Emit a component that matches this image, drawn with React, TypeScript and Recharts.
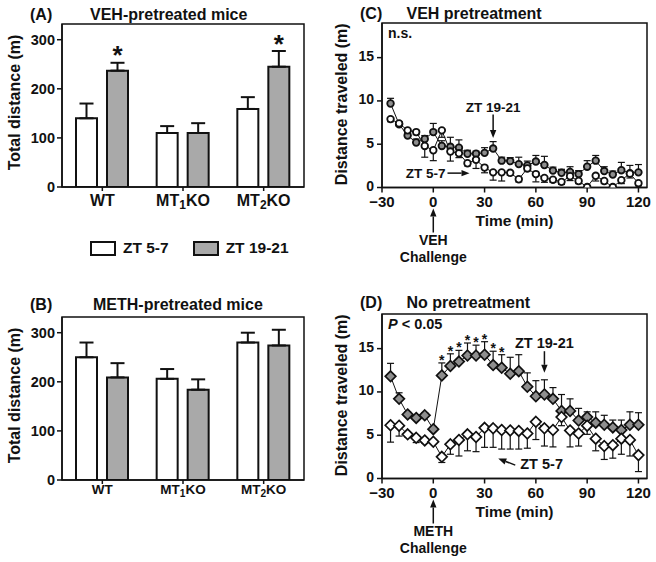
import React from 'react'
import {
  Bar,
  BarChart,
  ErrorBar,
  LabelList,
  Legend,
  Line,
  LineChart,
  ReferenceArea,
  ReferenceDot,
  XAxis,
  YAxis,
} from 'recharts'

// bar panels (A, B)
const GROUPS = ['WT', 'MT1KO', 'MT2KO']
const SERIES_NAMES = ['ZT 5-7', 'ZT 19-21']
const VEH_DAY = [140, 110, 159]
const VEH_DAY_ERR = [30, 14, 24]
const VEH_NIGHT = [237, 110, 245]
const VEH_NIGHT_ERR = [16, 20, 32]
const VEH_NIGHT_SIG = ['*', '', '*']
const METH_DAY = [250, 206, 280]
const METH_DAY_ERR = [30, 20, 20]
const METH_NIGHT = [209, 184, 274]
const METH_NIGHT_ERR = [29, 21, 32]
const BAR_TICKS = [0, 100, 200, 300]

// time course panels (C, D)
const TIMES = [-25, -20, -15, -10, -5, 0, 5, 10, 15, 20, 25, 30, 35, 40, 45, 50, 55, 60, 65, 70, 75, 80, 85, 90, 95, 100, 105, 110, 115, 120]
const C_NIGHT = [9.7, 7.3, 6.0, 5.2, 5.6, 6.4, 4.8, 4.7, 4.6, 3.9, 3.9, 4.0, 4.5, 3.1, 3.05, 2.7, 2.55, 3.0, 2.6, 1.95, 1.7, 1.8, 1.55, 2.4, 3.1, 1.9, 1.5, 2.0, 1.65, 1.75]
const C_NIGHT_ERR = [0.6, 0.3, 0.4, 0.4, 0.4, 1.0, 0.6, 1.1, 0.9, 0.4, 0.3, 0.6, 0.8, 0.4, 0.4, 0.8, 0.5, 0.7, 1.0, 0.4, 0.4, 0.6, 0.4, 0.7, 0.6, 0.5, 0.4, 0.9, 0.9, 0.9]
const C_DAY = [7.9, 7.4, 6.6, 6.4, 4.8, 4.3, 6.6, 4.15, 3.95, 2.8, 3.2, 2.3, 1.75, 1.75, 1.7, 0.95, 2.2, 1.55, 1.1, 0.9, 0.65, 1.3, 0.75, 0.05, 1.35, 0.75, 0.05, 0.85, 1.6, 0.5]
const C_DAY_ERR = [0.3, 0.3, 0.3, 0.3, 1.3, 1.2, 0.8, 1.1, 0.5, 0.3, 1.0, 0.6, 0.9, 1.0, 0.3, 0.3, 0.3, 0.9, 0.5, 0.3, 0.3, 0.5, 0.3, 0.05, 0.6, 0.3, 0.05, 0.4, 0.5, 0.3]
const D_NIGHT = [11.8, 9.2, 7.4, 7.0, 7.3, 5.7, 11.9, 13.0, 13.5, 14.2, 14.2, 14.3, 13.1, 12.8, 12.1, 12.4, 10.6, 9.5, 9.7, 9.2, 7.8, 7.8, 6.7, 7.1, 6.45, 6.2, 5.9, 5.6, 6.2, 6.2]
const D_NIGHT_ERR = [1.5, 0.7, 0.3, 0.3, 0.3, 0.3, 1.45, 1.4, 1.3, 1.45, 1.2, 1.5, 1.6, 1.5, 1.9, 1.9, 1.6, 1.8, 1.7, 1.3, 1.9, 1.4, 1.4, 0.6, 1.25, 1.1, 0.85, 1.15, 1.5, 1.4]
const D_DAY = [6.15, 6.1, 5.1, 4.7, 4.4, 4.25, 2.5, 3.95, 4.45, 5.1, 4.8, 5.85, 5.8, 5.6, 5.55, 5.5, 5.2, 6.55, 5.8, 5.6, 7.1, 5.55, 5.2, 6.1, 4.6, 3.75, 3.85, 4.6, 4.45, 2.7]
const D_DAY_ERR = [1.95, 1.2, 0.3, 0.55, 0.3, 0.2, 0.65, 1.15, 1.85, 1.9, 1.7, 2.25, 2.2, 2.2, 2.15, 2.1, 1.7, 2.05, 2.05, 1.95, 1.0, 1.9, 1.45, 1.0, 1.4, 1.55, 1.5, 1.8, 1.85, 1.9]
const D_SIG_TIMES = [5, 10, 15, 20, 25, 30, 35, 40]
const TIME_TICKS = [-30, 0, 30, 60, 90, 120]
const DIST_TICKS = [0, 5, 10, 15]

const INK = '#111'
const BAR_GRAY = '#a9a9a9'
const DOT_GRAY = '#8e8e8e'
const AXIS = { stroke: INK, strokeWidth: 1.5 }
const FONT = "'Liberation Sans', Arial, Helvetica, sans-serif"

const barRows = (day, dayErr, night, nightErr, sig) =>
  GROUPS.map((g, i) => ({
    group: g,
    day: day[i],
    dayErr: [0, dayErr[i]],
    night: night[i],
    nightErr: [0, nightErr[i]],
    sig: sig ? sig[i] : '',
  }))

const timeRows = (night, nightErr, day, dayErr, sigTimes) =>
  TIMES.map((t, i) => ({
    t,
    night: night[i],
    nightErr: [0, nightErr[i]],
    day: day[i],
    dayErr: [dayErr[i], 0],
    star: sigTimes.includes(t) ? night[i] + nightErr[i] : null,
  }))

const VEH_ROWS = barRows(VEH_DAY, VEH_DAY_ERR, VEH_NIGHT, VEH_NIGHT_ERR, VEH_NIGHT_SIG)
const METH_ROWS = barRows(METH_DAY, METH_DAY_ERR, METH_NIGHT, METH_NIGHT_ERR, null)
const C_ROWS = timeRows(C_NIGHT, C_NIGHT_ERR, C_DAY, C_DAY_ERR, [])
const D_ROWS = timeRows(D_NIGHT, D_NIGHT_ERR, D_DAY, D_DAY_ERR, D_SIG_TIMES)

const minus = (v) => (v < 0 ? `\u2212${-v}` : `${v}`)

function GroupTick(props) {
  const { x, y, payload, size } = props
  const m = /^(\D+)(\d)(\D+)$/.exec(String(payload.value))
  return (
    <text x={x} y={y} dy={size * 0.72} textAnchor="middle" fontSize={size} fontWeight={700} fill={INK}>
      {m ? (
        <>
          <tspan>{m[1]}</tspan>
          <tspan dy={3} fontSize={size * 0.75}>{m[2]}</tspan>
          <tspan dy={-3}>{m[3]}</tspan>
        </>
      ) : (
        payload.value
      )}
    </text>
  )
}

function YTitle(props) {
  const vb = props.viewBox || {}
  const x = (vb.x || 0) + props.inset
  const y = (vb.y || 0) + (vb.height || 0) / 2 + (props.shift || 0)
  return (
    <text x={x} y={y} transform={`rotate(-90 ${x} ${y})`} textAnchor="middle" fontSize={16} fontWeight={700} fill={INK}>
      {props.text}
    </text>
  )
}

function LegendBoxes({ payload }) {
  const items = [...(payload || [])].sort(
    (a, b) => SERIES_NAMES.indexOf(a.value) - SERIES_NAMES.indexOf(b.value),
  )
  return (
    <div style={{ display: 'flex', alignItems: 'center', fontSize: 15.5, fontWeight: 700, color: INK, lineHeight: '18px', fontFamily: FONT }}>
      {items.map((item) => (
        <div key={item.value} style={{ display: 'flex', alignItems: 'center', marginRight: 24 }}>
          <svg width={26} height={15}>
            <rect x={1} y={1} width={24} height={13} fill={item.color} stroke={INK} strokeWidth={2} />
          </svg>
          <span style={{ marginLeft: 7 }}>{item.value}</span>
        </div>
      ))}
    </div>
  )
}

// asterisk above the error bar of a bar: px per unit taken from the bar itself
const barStar = (vals, errs) => (p) => {
  if (!p.value) return null
  const vb = p.viewBox || p
  const i = p.index
  const top = vb.y - errs[i] * (vb.height / vals[i])
  return (
    <text x={vb.x + vb.width / 2} y={top + 1.5} textAnchor="middle" fontSize={26} fontWeight={700} fill={INK}>
      *
    </text>
  )
}

const lineStar = (p) => {
  if (p.value == null) return null
  const vb = p.viewBox || p
  return (
    <text x={vb.x} y={vb.y + 2} textAnchor="middle" fontSize={14} fontWeight={700} fill={INK}>
      *
    </text>
  )
}

const circleDot = (fill) => ({ r: 3.3, fill, stroke: INK, strokeWidth: 1.8 })

const diamondDot = (fill) => (p) => {
  if (p.cx == null || p.cy == null) return <g key={`d${p.index}`} />
  const s = 5.3
  return (
    <path
      key={`d${p.index}`}
      d={`M${p.cx},${p.cy - s}L${p.cx + s},${p.cy}L${p.cx},${p.cy + s}L${p.cx - s},${p.cy}Z`}
      fill={fill}
      stroke={INK}
      strokeWidth={1.7}
    />
  )
}

function Arrow({ x1, y1, x2, y2 }) {
  const a = Math.atan2(y2 - y1, x2 - x1)
  const L = 8
  const W = 3.2
  const bx = x2 - L * Math.cos(a)
  const by = y2 - L * Math.sin(a)
  const px = -Math.sin(a) * W
  const py = Math.cos(a) * W
  return (
    <g>
      <line x1={x1} y1={y1} x2={bx} y2={by} stroke={INK} strokeWidth={1.5} />
      <polygon points={`${x2},${y2} ${bx + px},${by + py} ${bx - px},${by - py}`} fill={INK} />
    </g>
  )
}

const txt = (size) => ({ fontSize: size, fontWeight: 700, fill: INK })

function BarPanel({ rows, tickSize, showLegend, starVals, starErrs }) {
  return (
    <BarChart width={320} height={215} data={rows} margin={{ top: 24, right: 16, left: 0, bottom: 0 }} barSize={21} barGap={10}>
      <ReferenceArea y1={0} y2={332} fill="none" stroke={INK} strokeWidth={1.5} ifOverflow="visible" />
      <XAxis
        dataKey="group"
        height={28}
        interval={0}
        tickSize={4}
        tickMargin={tickSize > 14 ? 3 : 0}
        axisLine={AXIS}
        tickLine={AXIS}
        tick={<GroupTick size={tickSize} />}
      />
      <YAxis
        type="number"
        domain={[0, 332]}
        ticks={BAR_TICKS}
        allowDataOverflow
        width={62}
        tickSize={5}
        tickMargin={2}
        axisLine={AXIS}
        tickLine={AXIS}
        tick={{ fontSize: 14.5, fontWeight: 700, fill: INK }}
        label={<YTitle text="Total distance (m)" inset={19.5} shift={-3} />}
      />
      <Bar dataKey="day" name={SERIES_NAMES[0]} fill="#fff" stroke={INK} strokeWidth={2} isAnimationActive={false}>
        <ErrorBar dataKey="dayErr" direction="y" width={7} stroke={INK} strokeWidth={2} isAnimationActive={false} />
      </Bar>
      <Bar dataKey="night" name={SERIES_NAMES[1]} fill={BAR_GRAY} stroke={INK} strokeWidth={2} isAnimationActive={false}>
        <ErrorBar dataKey="nightErr" direction="y" width={7} stroke={INK} strokeWidth={2} isAnimationActive={false} />
        {starVals && <LabelList dataKey="sig" content={barStar(starVals, starErrs)} />}
      </Bar>
      {showLegend && (
        <Legend
          layout="horizontal"
          verticalAlign="middle"
          align="center"
          wrapperStyle={{ left: 90, top: 239, width: 240 }}
          content={<LegendBoxes />}
        />
      )}
    </BarChart>
  )
}

function TimePanel({ rows, dot, children }) {
  return (
    <LineChart width={336} height={270} data={rows} margin={{ top: 23, right: 9, left: 0, bottom: 0 }}>
      <ReferenceArea x1={-30} x2={125} y1={0} y2={19} fill="none" stroke={INK} strokeWidth={1.5} ifOverflow="visible" />
      <XAxis
        dataKey="t"
        type="number"
        domain={[-30, 125]}
        ticks={TIME_TICKS}
        allowDataOverflow
        height={82.5}
        tickSize={5}
        tickMargin={4}
        axisLine={AXIS}
        tickLine={AXIS}
        tickFormatter={minus}
        tick={{ fontSize: 15, fontWeight: 700, fill: INK }}
        label={{ value: 'Time (min)', position: 'insideTop', offset: 27, fontSize: 15.5, fontWeight: 700, fill: INK }}
      />
      <YAxis
        type="number"
        domain={[0, 19]}
        ticks={DIST_TICKS}
        allowDataOverflow
        width={62}
        tickSize={5}
        tickMargin={3}
        axisLine={AXIS}
        tickLine={AXIS}
        tick={{ fontSize: 14, fontWeight: 700, fill: INK, dy: -1.5 }}
        label={<YTitle text="Distance traveled (m)" inset={27} shift={-1} />}
      />
      {/* error bars on their own invisible series so markers sit on top */}
      <Line dataKey="night" stroke="none" dot={false} activeDot={false} legendType="none" isAnimationActive={false}>
        <ErrorBar dataKey="nightErr" direction="y" width={3.5} stroke={INK} strokeWidth={1.2} isAnimationActive={false} />
      </Line>
      <Line dataKey="day" stroke="none" dot={false} activeDot={false} legendType="none" isAnimationActive={false}>
        <ErrorBar dataKey="dayErr" direction="y" width={3.5} stroke={INK} strokeWidth={1.2} isAnimationActive={false} />
      </Line>
      <Line dataKey="night" stroke={INK} strokeWidth={1} dot={dot(DOT_GRAY)} activeDot={false} isAnimationActive={false} />
      <Line dataKey="day" stroke={INK} strokeWidth={1} dot={dot('#fff')} activeDot={false} isAnimationActive={false} />
      <Line dataKey="star" stroke="none" dot={false} activeDot={false} legendType="none" isAnimationActive={false}>
        <LabelList dataKey="star" content={lineStar} />
      </Line>
      {children}
    </LineChart>
  )
}

const challenge = (drug) => (p) => (
  <g>
    <Arrow x1={p.cx} y1={p.cy + 45} x2={p.cx} y2={p.cy + 21} />
    <text x={p.cx} y={p.cy + 57.5} textAnchor="middle" {...txt(14)}>{drug}</text>
    <text x={p.cx} y={p.cy + 74} textAnchor="middle" {...txt(14)}>Challenge</text>
  </g>
)

const downArrowLabel = (label, size, gapTip, gapTail, gapText) => (p) => (
  <g>
    <Arrow x1={p.cx} y1={p.cy - gapTail} x2={p.cx} y2={p.cy - gapTip} />
    <text x={p.cx} y={p.cy - gapText} textAnchor="middle" {...txt(size)}>{label}</text>
  </g>
)

export default function App() {
  const cIdx = TIMES.indexOf(35)
  const dIdx = TIMES.indexOf(65)
  return (
    <div style={{ position: 'absolute', left: 0, top: 0, width: 656, height: 562, background: '#fff', fontFamily: FONT }}>
      <svg width={656} height={562} style={{ position: 'absolute', left: 0, top: 0, pointerEvents: 'none' }}>
        <text x={30} y={19.5} {...txt(16)}>(A)</text>
        <text x={90} y={19.5} {...txt(16)}>VEH-pretreated mice</text>
        <text x={30} y={310} {...txt(16)}>(B)</text>
        <text x={93} y={310} {...txt(16)}>METH-pretreated mice</text>
        <text x={360} y={18.5} {...txt(16)}>(C)</text>
        <text x={406.5} y={18.5} {...txt(16)}>VEH pretreatment</text>
        <text x={360} y={308.3} {...txt(16)}>(D)</text>
        <text x={406.5} y={308.3} {...txt(16)}>No pretreatment</text>
      </svg>

      <div style={{ position: 'absolute', left: 0, top: 0 }}>
        <BarPanel rows={VEH_ROWS} tickSize={16} showLegend starVals={VEH_NIGHT} starErrs={VEH_NIGHT_ERR} />
      </div>
      <div style={{ position: 'absolute', left: 0, top: 293 }}>
        <BarPanel rows={METH_ROWS} tickSize={13.5} showLegend={false} />
      </div>

      <div style={{ position: 'absolute', left: 320, top: 0 }}>
        <TimePanel rows={C_ROWS} dot={circleDot}>
          <ReferenceDot x={-30} y={19} ifOverflow="visible" shape={(p) => (
            <text x={p.cx + 6} y={p.cy + 15} {...txt(14)}>n.s.</text>
          )} />
          <ReferenceDot
            x={TIMES[cIdx]}
            y={C_NIGHT[cIdx] + C_NIGHT_ERR[cIdx]}
            ifOverflow="visible"
            shape={downArrowLabel('ZT 19-21', 13.5, 3.5, 27, 30)}
          />
          <ReferenceDot x={20} y={1.66} ifOverflow="visible" shape={(p) => (
            <g>
              <Arrow x1={p.cx - 20} y1={p.cy} x2={p.cx + 2} y2={p.cy} />
              <text x={p.cx - 22} y={p.cy + 5} textAnchor="end" {...txt(13.5)}>ZT 5-7</text>
            </g>
          )} />
          <ReferenceDot x={0} y={0} ifOverflow="visible" shape={challenge('VEH')} />
        </TimePanel>
      </div>

      <div style={{ position: 'absolute', left: 320, top: 291 }}>
        <TimePanel rows={D_ROWS} dot={diamondDot}>
          <ReferenceDot x={-30} y={19} ifOverflow="visible" shape={(p) => (
            <text x={p.cx + 6} y={p.cy + 14.5} {...txt(14.5)}>
              <tspan fontStyle="italic">P</tspan> {'< 0.05'}
            </text>
          )} />
          <ReferenceDot
            x={TIMES[dIdx]}
            y={D_NIGHT[dIdx] + D_NIGHT_ERR[dIdx]}
            ifOverflow="visible"
            shape={downArrowLabel('ZT 19-21', 14.5, 7, 28.6, 32)}
          />
          <ReferenceDot x={38} y={2.3} ifOverflow="visible" shape={(p) => (
            <g>
              <Arrow x1={p.cx + 17} y1={p.cy + 6.5} x2={p.cx} y2={p.cy} />
              <text x={p.cx + 22} y={p.cy + 10.6} {...txt(14.5)}>ZT 5-7</text>
            </g>
          )} />
          <ReferenceDot x={0} y={0} ifOverflow="visible" shape={challenge('METH')} />
        </TimePanel>
      </div>
    </div>
  )
}
